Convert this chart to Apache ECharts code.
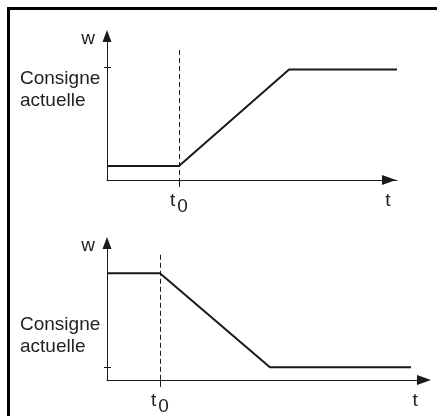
<!DOCTYPE html>
<html>
<head>
<meta charset="utf-8">
<script src="https://cdn.jsdelivr.net/npm/echarts@6/dist/echarts.min.js"></script>
<style>
  html, body { margin: 0; padding: 0; background: #fff; }
  #frame {
    position: absolute; left: 7px; top: 7px; width: 430px; height: 409px;
    border-left: 3px solid #000; border-top: 3px solid #000; box-sizing: border-box;
  }
  #chart { position: absolute; left: 0; top: 0; width: 437px; height: 416px; }
</style>
</head>
<body>
<div id="frame"></div>
<div id="chart"></div>
<script>
// haut : la consigne monte après t0
const upTime = [0, 25.6, 64.8, 103.2];
const upW = [9.7, 9.7, 76.7, 76.7];
const upT0 = 25.6;
const upTick = 78;
const upTEnd = 100;
const upTextAt = 62.5;
const upDashTop = 90.3;

// bas : la consigne descend après t0
const downTime = [0, 16.7, 51.4, 95.9];
const downW = [77.9, 77.9, 9.3, 9.3];
const downT0 = 16.7;
const downTick = 9.3;
const downTEnd = 97.2;
const downTextAt = 32;
const downDashTop = 91.4;

const axisLabel = 'w';
const timeLabel = 't';
const consigneLabel = 'Consigne\nactuelle';

const FONT = "'Liberation Sans', Arial, sans-serif";
const INK = '#1a1a1a';

const chart = echarts.init(document.getElementById('chart'));

// le palier du haut dépasse un peu la flèche : axe prolongé, flèche ramenée
const grids = [
  { left: 107, top: 36, width: 290, height: 144 },
  { left: 107, top: 243, width: 317, height: 140 }
];

const panels = [
  { time: upTime, w: upW, t0: upT0, tick: upTick, tEnd: upTEnd, textAt: upTextAt, dashTop: upDashTop, xMax: 103.2, arrowShift: -8 },
  { time: downTime, w: downW, t0: downT0, tick: downTick, tEnd: downTEnd, textAt: downTextAt, dashTop: downDashTop, xMax: 100, arrowShift: 0 }
];

const xAxes = [];
const yAxes = [];
const series = [];

panels.forEach((p, i) => {
  xAxes.push({
    gridIndex: i,
    type: 'value',
    min: 0,
    max: p.xMax,
    splitLine: { show: false },
    axisLine: {
      lineStyle: { color: INK, width: 1 },
      symbol: ['none', 'triangle'],
      symbolSize: [10, 14],
      symbolOffset: [0, p.arrowShift]
    },
    axisTick: {
      customValues: [p.t0],
      length: 7,
      lineStyle: { color: INK, width: 1 }
    },
    axisLabel: {
      customValues: [p.t0, p.tEnd],
      margin: 11,
      color: '#222',
      fontFamily: FONT,
      fontSize: 19,
      formatter: v => (v === p.t0 ? '{t|' + timeLabel + '}{s|0}' : '{t|' + timeLabel + '}'),
      rich: {
        t: { fontFamily: FONT, fontSize: 19, color: '#222', verticalAlign: 'top' },
        s: { fontFamily: FONT, fontSize: 19, color: '#222', padding: [6, 0, 0, 2] }
      }
    }
  });

  yAxes.push({
    gridIndex: i,
    type: 'value',
    min: 0,
    max: 100,
    position: 'left',
    splitLine: { show: false },
    name: axisLabel,
    nameLocation: 'end',
    nameGap: -3,
    nameTextStyle: {
      fontFamily: FONT, fontSize: 19, color: '#222',
      align: 'right', verticalAlign: 'middle', padding: [0, 12, 0, 0]
    },
    axisLine: {
      lineStyle: { color: INK, width: 1 },
      symbol: ['none', 'triangle'],
      symbolSize: [9, 12]
    },
    axisTick: {
      customValues: [p.tick],
      length: 3,
      lineStyle: { color: INK, width: 1 }
    },
    axisLabel: {
      customValues: [p.textAt],
      margin: 7,
      formatter: () => consigneLabel.split('\n').map(s => '{a|' + s + '}').join('\n'),
      rich: {
        a: { fontFamily: FONT, fontSize: 19, color: '#222', width: 80, align: 'left', lineHeight: 22 }
      }
    }
  });

  // petit trait de graduation côté intérieur
  yAxes.push({
    gridIndex: i,
    type: 'value',
    min: 0,
    max: 100,
    position: 'left',
    splitLine: { show: false },
    axisLine: { show: false },
    axisLabel: { show: false },
    axisTick: {
      customValues: [p.tick],
      inside: true,
      length: 4,
      lineStyle: { color: INK, width: 1 }
    }
  });

  series.push({
    type: 'line',
    xAxisIndex: i,
    yAxisIndex: i * 2,
    data: p.time.map((t, k) => [t, p.w[k]]),
    symbol: 'none',
    lineStyle: { color: INK, width: 2 },
    markLine: {
      silent: true,
      symbol: 'none',
      label: { show: false },
      lineStyle: { color: INK, width: 1, type: [5, 3] },
      data: [[{ coord: [p.t0, p.dashTop] }, { coord: [p.t0, 0] }]]
    }
  });
});

chart.setOption({
  animation: false,
  backgroundColor: 'transparent',
  grid: grids,
  xAxis: xAxes,
  yAxis: yAxes,
  series: series
});
</script>
</body>
</html>
